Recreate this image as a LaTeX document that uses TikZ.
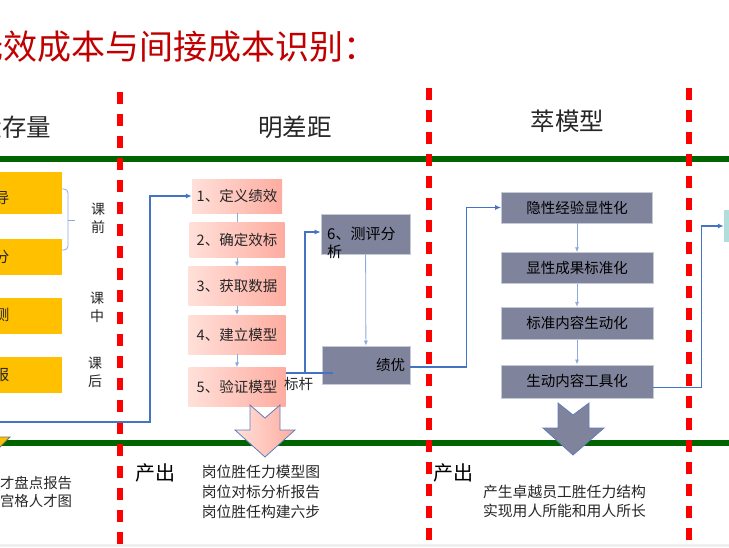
\documentclass[tikz,border=0pt]{standalone}
\usepackage{fontspec}
\setmainfont{Noto Sans CJK SC}
\usetikzlibrary{arrows.meta,positioning}
\definecolor{titleRed}{RGB}{192,0,0}
\definecolor{railGreen}{RGB}{0,100,0}
\definecolor{slate}{RGB}{127,131,155}
\definecolor{slateEdge}{RGB}{196,202,214}
\definecolor{pinkL}{RGB}{255,224,217}
\definecolor{pinkR}{RGB}{254,172,160}
\definecolor{gold}{RGB}{255,192,0}
\definecolor{mintFill}{RGB}{176,222,220}
\definecolor{linkBlue}{RGB}{68,114,196}
\definecolor{linkLight}{RGB}{142,169,219}
\definecolor{arrowEdge}{RGB}{96,124,186}
\definecolor{inkGray}{RGB}{38,38,38}

\begin{document}
\begin{tikzpicture}[
  x=1pt, y=-1pt,
  font=\fontsize{14.5}{17}\selectfont,
  pinkbox/.style={left color=pinkL, right color=pinkR, text=inkGray,
    minimum width=97pt, minimum height=39pt, inner sep=0pt},
  slatebox/.style={fill=slate, draw=slateEdge, line width=0.6pt, text=black,
    minimum width=152pt, minimum height=32pt, inner sep=0pt},
  goldbox/.style={fill=gold, minimum width=92pt, minimum height=36pt, inner sep=0pt},
  tag/.style={inner sep=0pt, text=inkGray},
  flow/.style={-{Latex[length=6pt,width=5pt]}, line width=1.3pt, draw=linkBlue},
  thinflow/.style={-{Latex[length=5pt,width=4pt]}, line width=0.8pt, draw=linkLight},
  rail/.style={draw=railGreen, line width=6pt},
  divider/.style={draw=red, line width=6pt, dash pattern=on 12pt off 10pt},
  bigarrow/.style={draw=arrowEdge, line width=0.8pt}
]
  \useasboundingbox (0,0) rectangle (729,547);
  \clip (0,0) rectangle (729,547);
  \fill[gray!12] (0,544) rectangle (729,547);

  \node[tag, anchor=west, text=titleRed, font=\fontsize{34}{39}\selectfont] (mainTitle) at (-31,47)
    {无效成本与间接成本识别：};
  \node[tag, anchor=west, font=\fontsize{24.5}{28}\selectfont] (stockTitle) at (-22.5,127) {盘存量};
  \node[tag, font=\fontsize{24.5}{28}\selectfont] (gapTitle) at (295,127) {明差距};
  \node[tag, font=\fontsize{24.5}{28}\selectfont] (modelTitle) at (567.5,121) {萃模型};

  \draw[rail] (0,159) -- (729,159);
  \draw[rail] (0,443) -- (729,443);
  \draw[divider] (120,92) -- (120,560);
  \draw[divider] (429,88) -- (429,560);
  \draw[divider] (688.5,88) -- (688.5,560);

  \node[goldbox, minimum height=42pt] (preA) at (16,193) {};
  \node[goldbox] (preB) at (16,257) {};
  \node[goldbox] (inClass) at (16,316) {};
  \node[goldbox] (afterClass) at (16,375) {};
  \node[tag, font=\fontsize{15}{17}\selectfont] (preAText) at (2,198) {导};
  \node[tag, font=\fontsize{15}{17}\selectfont] (preBText) at (2,257) {分};
  \node[tag, font=\fontsize{15}{17}\selectfont] (inClassText) at (2,315) {测};
  \node[tag, font=\fontsize{15}{17}\selectfont] (afterClassText) at (2,375) {报};
  \draw[linkLight, line width=0.8pt, rounded corners=4pt] (62,189) -- (68,189) -- (68,250) -- (62,250);
  \draw[linkLight, line width=0.8pt] (68,220) -- (75,220);
  \node[tag, align=center, font=\fontsize{14}{18}\selectfont] (beforeTag) at (98,218) {课\\前};
  \node[tag, align=center, font=\fontsize{14}{18}\selectfont] (duringTag) at (97,307) {课\\中};
  \node[tag, align=center, font=\fontsize{14}{18}\selectfont] (afterTag) at (95,372) {课\\后};

  \node[pinkbox, minimum width=90pt, minimum height=34pt] (stepDefine) at (237,196) {1、定义绩效};
  \node[pinkbox, minimum width=95pt, minimum height=35pt, below=9pt of stepDefine] (stepCriterion) {2、确定效标};
  \node[pinkbox, below=9pt of stepCriterion] (stepData) {3、获取数据};
  \node[pinkbox, below=9pt of stepData] (stepModel) {4、建立模型};
  \node[pinkbox, below=13pt of stepModel] (stepVerify) {5、验证模型};
  \draw[linkLight, line width=0.8pt] (stepDefine) -- (stepCriterion);
  \draw[thinflow] (stepCriterion) -- (stepData);
  \draw[thinflow] (stepData) -- (stepModel);
  \draw[thinflow] (stepModel) -- (stepVerify);

  \node[slatebox, minimum width=89pt, minimum height=40pt] (evalBox) at (365.5,234) {};
  \node[tag, anchor=west, align=left, text=black, font=\fontsize{15}{17.5}\selectfont] (evalText) at (327,243)
    {6、测评分\\析};
  \node[slatebox, minimum width=88pt, minimum height=38pt, text width=78pt, align=right] (excelBox) at (366,365) {绩优};
  \draw[thinflow] (evalBox) -- (excelBox);
  \node[tag] (benchLabel) at (298.5,383.5) {标杆};

  \node[slatebox, minimum width=151pt, minimum height=31pt] (tacitBox) at (577,207.5) {隐性经验显性化};
  \node[slatebox, minimum height=31pt, below=29pt of tacitBox] (standardBox) {显性成果标准化};
  \node[slatebox, below=23pt of standardBox] (vividBox) {标准内容生动化};
  \node[slatebox, minimum height=33pt, below=25pt of vividBox] (toolBox) {生动内容工具化};
  \draw[thinflow] (tacitBox) -- (standardBox);
  \draw[thinflow] (standardBox) -- (vividBox);
  \draw[thinflow] (vividBox) -- (toolBox);
  \node[fill=mintFill, minimum width=46pt, minimum height=32pt, inner sep=0pt] (nextBox) at (747,226) {};

  \coordinate (reportIn) at (-5,422);
  \coordinate (benchmark) at (305,373);
  \draw[flow] (reportIn) -- ++(155,0) |- (stepDefine.west);
  \draw[flow, -] (stepVerify.east |- benchmark) -- ([xshift=11pt]excelBox.west |- benchmark);
  \draw[flow] (benchmark) |- ([yshift=2pt]evalBox.west);
  \draw[flow] ([yshift=-2pt]excelBox.east) -- ++(56,0) |- (tacitBox.west);
  \draw[flow] ([yshift=-6.5pt]toolBox.east) -- ++(48,0) |- (nextBox.west);

  \draw[fill=gold, draw=black!55, line width=0.8pt] (-35,405) -- (-20,417) -- (-5,405) -- (-5,437)
    -- (10,437) -- (-20,467) -- (-50,437) -- (-35,437) -- cycle;
  \draw[bigarrow, left color=pinkL, right color=pinkR] (250,405) -- (265,418) -- (280,405) -- (280,430)
    -- (295,430) -- (265,457) -- (235,430) -- (250,430) -- cycle;
  \draw[bigarrow, fill=slate] (558,403) -- (573,415) -- (589,403) -- (589,428)
    -- (604,428) -- (573,455) -- (543,428) -- (558,428) -- cycle;

  \node[tag, text=black, font=\fontsize{20}{24}\selectfont] (outputA) at (155,472.5) {产出};
  \node[tag, text=black, font=\fontsize{20}{24}\selectfont] (outputB) at (453,472.5) {产出};
  \node[tag, anchor=west, align=left, font=\fontsize{14.4}{18.5}\selectfont] (stockOutput) at (-14.5,492)
    {人才盘点报告\\九宫格人才图};
  \node[tag, align=left, font=\fontsize{14.8}{20}\selectfont] (gapOutput) at (261,491.5)
    {岗位胜任力模型图\\岗位对标分析报告\\岗位胜任构建六步};
  \node[tag, align=left, font=\fontsize{14.8}{19.5}\selectfont] (modelOutput) at (564.5,501.3)
    {产生卓越员工胜任力结构\\实现用人所能和用人所长};
\end{tikzpicture}
\end{document}
